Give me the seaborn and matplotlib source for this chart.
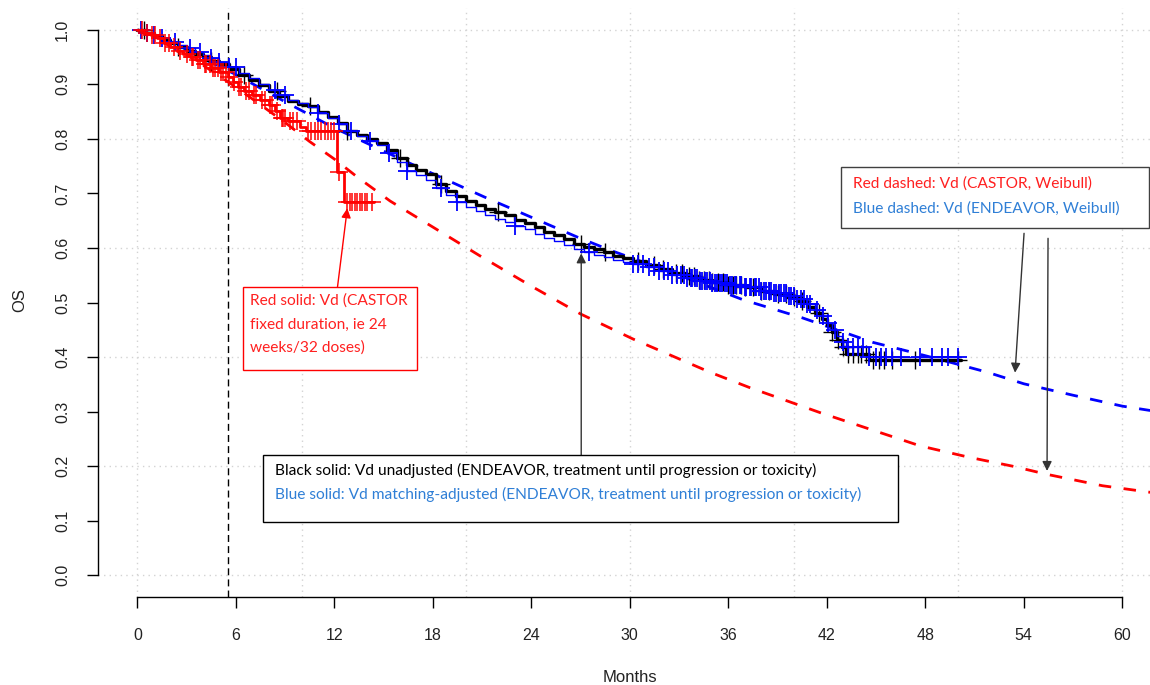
import numpy as np
import pandas as pd
import matplotlib
matplotlib.use('Agg')
import matplotlib.pyplot as plt
from matplotlib.patches import Rectangle
import seaborn as sns

# Kaplan-Meier steps (months, OS)
black_t = [0, 0.5, 1.0, 1.5, 2.0, 2.5, 3.0, 3.5, 4.0, 4.5, 5.0, 5.6, 6.2, 6.8, 7.4, 8.0, 8.6, 9.2,
           9.8, 10.4, 11.0, 11.6, 12.2, 12.8, 13.4, 14.0, 14.6, 15.2, 15.8, 16.4, 17.0, 17.6, 18.2,
           18.8, 19.4, 20.0, 20.6, 21.2, 21.8, 22.4, 23.0, 23.6, 24.2, 24.8, 25.4, 26.0, 26.6, 27.2,
           27.8, 28.4, 29.0, 29.6, 30.2, 31.0, 31.8, 32.6, 33.4, 34.2, 35.0, 36.0, 37.0, 38.0, 38.8,
           39.6, 40.2, 40.8, 41.3, 41.7, 42.0, 42.3, 42.6, 42.9, 43.2, 44.6, 50.2]
black_s = [1.0, 0.995, 0.988, 0.982, 0.975, 0.968, 0.962, 0.956, 0.950, 0.943, 0.937, 0.928, 0.918,
           0.908, 0.898, 0.888, 0.879, 0.870, 0.864, 0.860, 0.850, 0.840, 0.830, 0.815, 0.808, 0.800,
           0.792, 0.780, 0.765, 0.752, 0.743, 0.735, 0.718, 0.705, 0.695, 0.686, 0.679, 0.672, 0.666,
           0.660, 0.652, 0.645, 0.638, 0.630, 0.623, 0.616, 0.608, 0.601, 0.598, 0.592, 0.586, 0.581,
           0.576, 0.569, 0.562, 0.555, 0.548, 0.542, 0.537, 0.533, 0.528, 0.522, 0.516, 0.510, 0.503,
           0.492, 0.480, 0.470, 0.458, 0.445, 0.432, 0.418, 0.405, 0.395, 0.395]
black_cens = [0.4, 2.5, 4.5, 6.5, 8.5, 10.5, 12.8, 16.0, 18.5, 22.0, 27.0, 28.5, 30.5, 31.5, 32.0,
              32.8, 33.2, 33.6, 33.9, 34.2, 34.5, 34.8, 35.0, 35.4, 35.7, 36.0, 36.3, 36.5, 36.8,
              37.0, 37.5, 38.0, 38.5, 39.0, 39.5, 40.0, 40.5, 41.5, 42.3, 42.7, 43.0, 43.3, 43.6,
              43.9, 44.1, 44.4, 44.8, 45.2, 45.5, 46.0, 47.4, 50.0]

blue_t = black_t
blue_s = [1.0, 0.995, 0.990, 0.985, 0.978, 0.972, 0.966, 0.960, 0.954, 0.948, 0.941, 0.932, 0.921,
          0.911, 0.900, 0.890, 0.881, 0.872, 0.865, 0.858, 0.848, 0.838, 0.828, 0.815, 0.806, 0.797,
          0.788, 0.775, 0.757, 0.742, 0.733, 0.725, 0.710, 0.697, 0.685, 0.676, 0.668, 0.660, 0.654,
          0.648, 0.641, 0.634, 0.626, 0.619, 0.612, 0.605, 0.598, 0.592, 0.588, 0.583, 0.578, 0.574,
          0.570, 0.565, 0.558, 0.551, 0.545, 0.540, 0.536, 0.532, 0.528, 0.522, 0.517, 0.512, 0.506,
          0.498, 0.486, 0.475, 0.463, 0.450, 0.438, 0.428, 0.418, 0.400, 0.400]
blue_cens = [0.2, 0.6, 1.0, 1.5, 2.3, 3.2, 3.8, 4.5, 5.0, 5.6, 6.0, 8.4, 9.0, 11.0, 12.3, 13.0, 14.2,
             15.3, 16.4, 18.5, 19.5, 23.0, 27.5, 30.2, 30.5, 30.8, 31.2, 31.5, 31.8, 32.1, 32.3,
             32.6, 32.9, 33.1, 33.3, 33.5, 33.7, 33.8, 34.0, 34.1, 34.3, 34.4, 34.6, 34.7, 34.9,
             35.0, 35.2, 35.3, 35.5, 35.6, 35.8, 35.9, 36.1, 36.2, 36.4, 36.5, 36.7, 36.8, 37.0,
             37.1, 37.3, 37.4, 37.6, 37.7, 37.9, 38.0, 38.2, 38.3, 38.5, 38.6, 38.8, 38.9, 39.1,
             39.2, 39.4, 39.5, 39.7, 39.8, 40.0, 40.2, 40.4, 40.6, 40.8, 41.0, 41.4, 41.8, 42.1,
             42.5, 43.0, 43.3, 43.6, 43.9, 44.2, 44.6, 45.0, 45.3, 45.6, 46.0, 46.5, 47.7, 48.4,
             49.0, 49.4, 50.0]

red_t = [0, 0.4, 0.8, 1.2, 1.6, 2.0, 2.4, 2.8, 3.2, 3.6, 4.0, 4.5, 5.0, 5.5, 5.8, 6.1, 6.5, 7.0,
         7.5, 8.0, 8.4, 8.7, 9.2, 9.9, 10.3, 12.15, 12.6, 14.4]
red_s = [1.0, 0.995, 0.990, 0.985, 0.975, 0.968, 0.962, 0.955, 0.950, 0.944, 0.938, 0.930, 0.922,
         0.914, 0.905, 0.895, 0.888, 0.880, 0.871, 0.862, 0.852, 0.838, 0.832, 0.822, 0.815, 0.740,
         0.684, 0.684]
red_cens = [0.3, 0.6, 0.9, 1.1, 1.4, 1.7, 1.9, 2.2, 2.6, 3.0, 3.3, 3.4, 3.7, 3.8, 4.1, 4.2, 4.4,
            4.6, 4.7, 4.9, 5.1, 5.2, 5.4, 5.6, 5.9, 6.2, 6.3, 6.6, 6.8, 7.1, 7.2, 7.6, 7.8, 8.1,
            8.2, 8.5, 8.8, 8.9, 9.0, 9.3, 9.5, 9.7, 10.4, 10.6, 10.8, 11.0, 11.2, 11.4, 11.6, 11.8,
            12.0, 12.3, 12.8, 12.95, 13.1, 13.25, 13.4, 13.55, 13.7, 13.85, 14.0, 14.3]

# Weibull extrapolations
red_w_t = [0, 3, 6, 9, 10.5, 12, 13.4, 15.4, 17.8, 20.9, 24, 27, 30.2, 34.9, 37.3, 41.6, 44, 47.7,
           50.7, 53.3, 55.4, 58.8, 61.7]
red_w_s = [1.0, 0.955, 0.895, 0.83, 0.795, 0.763, 0.73, 0.686, 0.642, 0.585, 0.53, 0.479, 0.433,
           0.372, 0.344, 0.298, 0.274, 0.237, 0.216, 0.2, 0.185, 0.164, 0.152]
blue_w_t = [0, 3, 6, 9, 12, 16.4, 21.1, 26.8, 28.8, 33, 36.9, 40.5, 44.8, 47.3, 49.7, 51.8, 54, 57,
            60, 61.7]
blue_w_s = [1.0, 0.962, 0.918, 0.868, 0.82, 0.758, 0.694, 0.62, 0.596, 0.55, 0.505, 0.472, 0.427,
            0.408, 0.389, 0.372, 0.351, 0.33, 0.31, 0.302]

x_ticks = [0, 6, 12, 18, 24, 30, 36, 42, 48, 54, 60]
y_ticks = [0.0, 0.1, 0.2, 0.3, 0.4, 0.5, 0.6, 0.7, 0.8, 0.9, 1.0]
cutoff = 5.52  # 24 weeks

blue_txt = '#2F7FD6'

sns.set_style('white')
plt.rcParams['font.family'] = ['Liberation Sans', 'DejaVu Sans']

W, H = 1150, 685
fig = plt.figure(figsize=(W / 100, H / 100), dpi=100)
ax = fig.add_axes([98 / W, 88 / H, 1 - 98 / W, (597 - 8) / H])

# dashed Weibull curves
ax.plot(red_w_t, red_w_s, color='red', lw=2, dashes=(4.5, 4.5), zorder=2)
ax.plot(blue_w_t, blue_w_s, color='blue', lw=2, dashes=(4.5, 4.5), zorder=2)


def km(t, s, cens, color, lw, mew, z):
    df = pd.DataFrame({'t': t, 's': s})
    sns.lineplot(data=df, x='t', y='s', drawstyle='steps-post', color=color, lw=lw,
                 estimator=None, sort=False, ax=ax, zorder=z)
    idx = np.searchsorted(np.asarray(t), np.asarray(cens), side='right') - 1
    cy = np.asarray(s)[idx]
    ax.plot(cens, cy, ls='none', marker='+', ms=13, mew=mew, color=color, zorder=z)


km(black_t, black_s, black_cens, 'black', 2.4, 1.0, 3)
km(blue_t, blue_s, blue_cens, 'blue', 1.0, 1.3, 4)
km(red_t, red_s, red_cens, 'red', 2.0, 1.1, 5)

ax.axvline(cutoff, color='black', lw=1, dashes=(5, 3), zorder=1)

ax.set_xlabel('')
ax.set_ylabel('')
ax.set_xlim(-2.4, (W - 137) / 16.42)
ax.set_ylim(-0.04, 1.04)
ax.set_xticks(x_ticks)
ax.set_yticks(y_ticks)
ax.set_yticklabels([f'{v:.1f}' for v in y_ticks], rotation=90, va='center')
ax.tick_params(axis='both', length=8, width=1, color='black', labelsize=11.5, direction='out',
               bottom=True, left=True, labelcolor='#222222')
ax.tick_params(axis='x', pad=14)
ax.tick_params(axis='y', pad=12)
for sp in ['top', 'right']:
    ax.spines[sp].set_visible(False)
ax.spines['left'].set_bounds(0, 1)
ax.spines['bottom'].set_bounds(0, 60)
for sp in ['left', 'bottom']:
    ax.spines[sp].set_color('black')
    ax.spines[sp].set_linewidth(1)

# R style grid
for gx in [0, 10, 20, 30, 40, 50, 60]:
    ax.axvline(gx, color='#D3D3D3', lw=1, ls=(0, (1, 3)), zorder=0)
for gy in [0, 0.2, 0.4, 0.6, 0.8, 1.0]:
    ax.axhline(gy, color='#D3D3D3', lw=1, ls=(0, (1, 3)), zorder=0)

fig.text(630 / W, 1 - 677 / H, 'Months', ha='center', va='center', fontsize=12, color='#222222')
fig.text(20 / W, 1 - 300 / H, 'OS', ha='center', va='center', rotation=90, fontsize=12,
         color='#222222')


def px(x, y):
    return (x / W, 1 - y / H)


def box(x0, y0, x1, y1, edge):
    ax.add_patch(Rectangle(px(x0, y1), (x1 - x0) / W, (y1 - y0) / H, transform=fig.transFigure,
                           facecolor='white', edgecolor=edge, lw=1, zorder=7, clip_on=False))


def d(x, y):
    return ((x - 137) / 16.42, (574 - y) / 544)


def arrow(a, b, color):
    ax.annotate('', xy=d(*b), xytext=d(*a),
                arrowprops=dict(arrowstyle='-|>', color=color, lw=1, mutation_scale=14,
                                shrinkA=0, shrinkB=0), zorder=6)


box_font = ['Lato', 'DejaVu Sans']
fs = 11.2

arrow((337, 288), (347, 208), 'red')
box(243, 287, 417, 370, 'red')
for i, line in enumerate(['Red solid: Vd (CASTOR', 'fixed duration, ie 24', 'weeks/32 doses)']):
    fig.text(*px(250, 301 + i * 23.5), line, color='#FF2020', fontsize=fs, va='center',
             family=box_font, zorder=8)

arrow((581, 455), (581, 253), '#333333')
box(263, 455, 898, 522, 'black')
fig.text(*px(275, 470), 'Black solid: Vd unadjusted (ENDEAVOR, treatment until progression or toxicity)',
         color='black', fontsize=fs, va='center', family=box_font, zorder=8)
fig.text(*px(275, 494), 'Blue solid: Vd matching-adjusted (ENDEAVOR, treatment until progression or toxicity)',
         color=blue_txt, fontsize=fs, va='center', family=box_font, zorder=8)

arrow((1024, 233), (1015, 372), '#333333')
arrow((1048, 238), (1047, 470), '#333333')
box(841, 167, 1149, 228, '#404040')
fig.text(*px(853, 184), 'Red dashed: Vd (CASTOR, Weibull)', color='#FF2020', fontsize=fs,
         va='center', family=box_font, zorder=8)
fig.text(*px(853, 209), 'Blue dashed: Vd (ENDEAVOR, Weibull)', color=blue_txt, fontsize=fs,
         va='center', family=box_font, zorder=8)

fig.savefig('out.png', dpi=100)
